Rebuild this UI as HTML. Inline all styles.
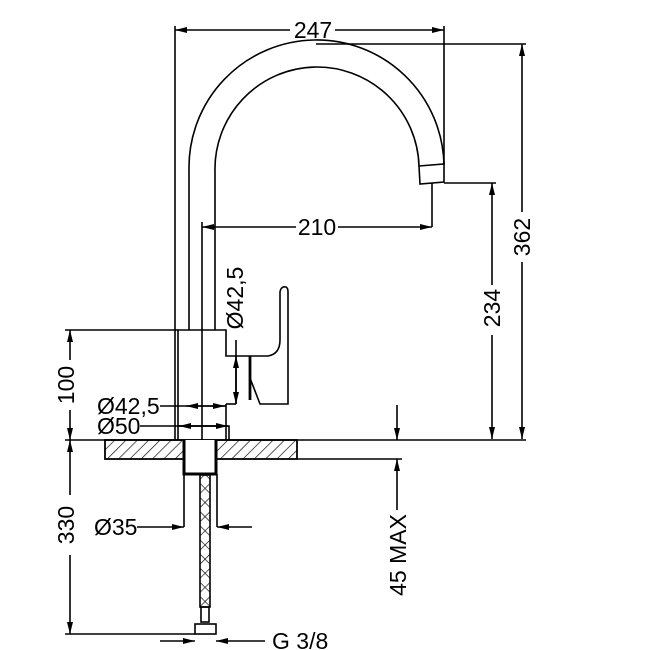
<!DOCTYPE html>
<html><head><meta charset="utf-8"><style>
html,body{margin:0;padding:0;background:#fff;}
svg{display:block;}
text{font-family:"Liberation Sans",sans-serif;font-size:23px;fill:#000;}
</style></head><body>
<svg width="650" height="650" viewBox="0 0 650 650" xmlns="http://www.w3.org/2000/svg">
<defs>
<marker id="a" viewBox="0 0 12 6" refX="12" refY="3" markerWidth="12" markerHeight="6" markerUnits="userSpaceOnUse" orient="auto"><path d="M0,0 L12,3 L0,6 z" fill="#000"/></marker>
<pattern id="h" width="8" height="8" patternUnits="userSpaceOnUse" patternTransform="rotate(45)"><line x1="0" y1="0" x2="0" y2="8" stroke="#000" stroke-width="1.3"/></pattern>
<pattern id="x" width="10" height="10" patternUnits="userSpaceOnUse" patternTransform="rotate(45)"><line x1="0" y1="0" x2="0" y2="10" stroke="#000" stroke-width="1.3"/><line x1="0" y1="0" x2="10" y2="0" stroke="#000" stroke-width="1.3"/></pattern>
</defs>
<g stroke="#000" stroke-width="1.6" fill="none">
<path d="M189,330 L189,170 A127.5,127.5 0 0 1 444,165"/>
<path d="M215,330 L215,172 A102,102 0 0 1 419,166"/>
<path d="M419,166 L444,164 L444,182 L420,184 Z"/>
<line x1="175" y1="440" x2="175" y2="26"/>
<line x1="444" y1="164" x2="444" y2="26"/>
<line x1="290" y1="30" x2="175" y2="30" marker-end="url(#a)"/>
<line x1="335" y1="30" x2="444" y2="30" marker-end="url(#a)"/>
<line x1="316" y1="44" x2="526" y2="44"/>
<line x1="522" y1="212" x2="522" y2="44" marker-end="url(#a)"/>
<line x1="522" y1="262" x2="522" y2="439" marker-end="url(#a)"/>
<line x1="444" y1="183" x2="496" y2="183"/>
<line x1="492" y1="285" x2="492" y2="183" marker-end="url(#a)"/>
<line x1="492" y1="335" x2="492" y2="439" marker-end="url(#a)"/>
<line x1="432" y1="183" x2="432" y2="227"/>
<line x1="296" y1="227" x2="202" y2="227" marker-end="url(#a)"/>
<line x1="338" y1="227" x2="432" y2="227" marker-end="url(#a)"/>
<line x1="202" y1="222" x2="202" y2="440"/>
<path d="M178,440 L178,330 L226,330 L226,356 L250,356"/>
<path d="M226,440 L226,404"/>
<line x1="226" y1="404" x2="236" y2="404"/>
<line x1="250" y1="356" x2="250" y2="400" stroke-width="2.8"/>
<path d="M250,356 L268,356 Q280,354 280,340 L280,292 Q281,286 286,287 Q288,288 288,292 L288,404 L260,404 L250,378"/>
<line x1="236" y1="340" x2="236" y2="404"/>
<line x1="236" y1="380" x2="236" y2="356" marker-end="url(#a)"/>
<line x1="236" y1="380" x2="236" y2="404" marker-end="url(#a)"/>
<path d="M178,426 L229,426 L229,440"/>
<line x1="160" y1="406" x2="226" y2="406"/>
<line x1="205" y1="406" x2="186" y2="406" marker-end="url(#a)"/>
<line x1="205" y1="406" x2="225" y2="406" marker-end="url(#a)"/>
<line x1="140" y1="426" x2="228" y2="426"/>
<line x1="205" y1="426" x2="179" y2="426" marker-end="url(#a)"/>
<line x1="205" y1="426" x2="228" y2="426" marker-end="url(#a)"/>
<line x1="65" y1="330" x2="178" y2="330"/>
<line x1="70" y1="360" x2="70" y2="330" marker-end="url(#a)"/>
<line x1="70" y1="410" x2="70" y2="440" marker-end="url(#a)"/>
<line x1="65" y1="440" x2="526" y2="440"/>
<line x1="297" y1="459" x2="402" y2="459"/>
</g>
<rect x="105" y="440" width="192" height="19" fill="url(#h)" stroke="#000" stroke-width="1.8"/>
<rect x="183" y="440" width="34" height="20" fill="#fff" stroke="none"/>
<g stroke="#000" fill="none">
<path d="M184,440 L184,474 L216,474 L216,440" stroke-width="3"/>
<rect x="200" y="475" width="10" height="132" fill="url(#x)" stroke-width="1.6"/>
<rect x="201" y="607" width="8" height="15" stroke-width="1.6"/>
<rect x="195" y="624" width="21" height="10" stroke-width="1.6"/>
<line x1="184" y1="474" x2="184" y2="527" stroke-width="1.6"/>
<line x1="217" y1="474" x2="217" y2="527" stroke-width="1.6"/>
<g stroke-width="1.6">
<line x1="137" y1="527" x2="184" y2="527" marker-end="url(#a)"/>
<line x1="252" y1="527" x2="217" y2="527" marker-end="url(#a)"/>
<line x1="70" y1="495" x2="70" y2="440" marker-end="url(#a)"/>
<line x1="70" y1="555" x2="70" y2="634" marker-end="url(#a)"/>
<line x1="65" y1="634" x2="195" y2="634"/>
<line x1="160" y1="641" x2="195" y2="641" marker-end="url(#a)"/>
<line x1="265" y1="641" x2="216" y2="641" marker-end="url(#a)"/>
<line x1="397" y1="405" x2="397" y2="440" marker-end="url(#a)"/>
<line x1="397" y1="510" x2="397" y2="459" marker-end="url(#a)"/>
</g>
</g>
<text x="313" y="38" text-anchor="middle">247</text>
<text x="317" y="235" text-anchor="middle">210</text>
<text transform="translate(530,237) rotate(-90)" text-anchor="middle">362</text>
<text transform="translate(500,308) rotate(-90)" text-anchor="middle">234</text>
<text transform="translate(243,298) rotate(-90)" text-anchor="middle">Ø42,5</text>
<text x="97" y="414">Ø42,5</text>
<text x="97" y="434">Ø50</text>
<text transform="translate(74,385) rotate(-90)" text-anchor="middle">100</text>
<text transform="translate(74,525) rotate(-90)" text-anchor="middle">330</text>
<text x="94" y="535">Ø35</text>
<text x="272" y="649">G 3/8</text>
<text transform="translate(406,555) rotate(-90)" text-anchor="middle">45 MAX</text>
</svg>
</body></html>
